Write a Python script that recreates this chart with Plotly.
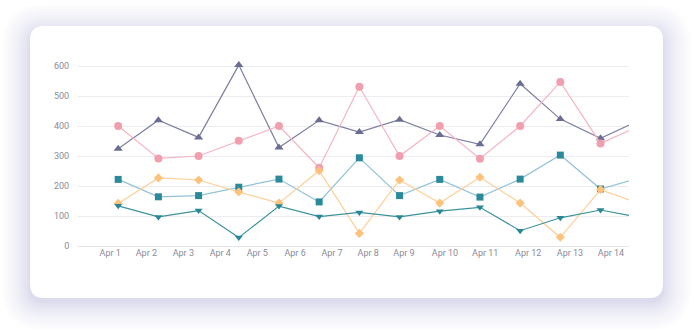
import pandas as pd
import plotly.graph_objects as go

# ---------------- data ----------------
dates = pd.date_range("2024-04-01", periods=14, freq="D")
series_a = [324, 419, 362, 603, 328, 419, 380, 421, 370, 339, 541, 423, 359, 421]   # triangle-up
series_b = [400, 292, 300, 351, 400, 261, 531, 300, 400, 291, 400, 547, 342, 402]   # circle
series_c = [222, 164, 168, 196, 223, 147, 294, 168, 222, 163, 223, 303, 190, 228]   # square
series_d = [142, 227, 220, 180, 143, 251, 42, 220, 143, 229, 143, 29, 188, 140]     # diamond
series_e = [134, 97, 118, 28, 133, 98, 112, 97, 116, 129, 51, 94, 120, 95]          # triangle-down
tick_labels = ["Apr 1", "Apr 2", "Apr 3", "Apr 4", "Apr 5", "Apr 6", "Apr 7",
               "Apr 8", "Apr 9", "Apr 10", "Apr 11", "Apr 12", "Apr 13", "Apr 14"]
y_ticks = [0, 100, 200, 300, 400, 500, 600]

# label anchor offsets (days from Apr 1) as placed by the original axis
tick_day_offsets = [-0.20, 0.70, 1.62, 2.54, 3.46, 4.40, 5.32, 6.22, 7.11, 8.13, 9.13, 10.20, 11.24, 12.26]
tick_vals = [pd.Timestamp("2024-04-01") + pd.Timedelta(days=d) for d in tick_day_offsets]

# ---------------- layout geometry ----------------
W, H = 694, 333
ML, MR, MT, MB = 78, 65, 54, 87
PW, PH = W - ML - MR, H - MT - MB


def fx(px):
    return (px - ML) / PW


def fy(py):
    return (H - MB - py) / PH


def rrect(x0, y0, x1, y1, r):
    pts = [
        f"M {fx(x0 + r)},{fy(y0)}",
        f"L {fx(x1 - r)},{fy(y0)}",
        f"Q {fx(x1)},{fy(y0)} {fx(x1)},{fy(y0 + r)}",
        f"L {fx(x1)},{fy(y1 - r)}",
        f"Q {fx(x1)},{fy(y1)} {fx(x1 - r)},{fy(y1)}",
        f"L {fx(x0 + r)},{fy(y1)}",
        f"Q {fx(x0)},{fy(y1)} {fx(x0)},{fy(y1 - r)}",
        f"L {fx(x0)},{fy(y0 + r)}",
        f"Q {fx(x0)},{fy(y0)} {fx(x0 + r)},{fy(y0)}",
        "Z",
    ]
    return " ".join(pts)


shapes = []
# soft shadow (denser near the card, fading outward)
n = 18
for i in range(n, 0, -1):
    e = (i / n) ** 1.5 * 28
    shapes.append(dict(type="path", xref="paper", yref="paper", layer="below",
                       path=rrect(30 - e, 27 - e + 5, 663 + e, 298 + e + 4, 14 + e),
                       fillcolor="rgba(120,120,165,0.014)", line=dict(width=0)))
# card
shapes.append(dict(type="path", xref="paper", yref="paper", layer="below",
                   path=rrect(30, 26, 663, 298, 14),
                   fillcolor="white", line=dict(width=0)))

fig = go.Figure()


def add(y, name, symbol, mcolor, lcolor, size):
    fig.add_trace(go.Scatter(
        x=dates, y=y, name=name, mode="lines+markers",
        line=dict(color=lcolor, width=1.2),
        marker=dict(symbol=symbol, color=mcolor, size=size, line=dict(width=0)),
        cliponaxis=True,
    ))


add(series_a, "A", "triangle-up", "#6b6d92", "#7d7fa0", 8)
add(series_b, "B", "circle", "#f19fae", "#f6b5c1", 8)
add(series_c, "C", "square", "#2b8a9a", "#92c2d6", 7)
add(series_d, "D", "diamond", "#ffc27d", "#ffcf98", 7)
add(series_e, "E", "triangle-down", "#2a8896", "#3b929d", 7)

fig.update_layout(
    width=W, height=H,
    margin=dict(l=ML, r=MR, t=MT, b=MB, pad=0),
    paper_bgcolor="white",
    plot_bgcolor="rgba(0,0,0,0)",
    showlegend=False,
    shapes=shapes,
    font=dict(family="Roboto", size=9, color="#8b8b97"),
    xaxis=dict(
        type="date",
        range=[pd.Timestamp("2024-03-31"), pd.Timestamp("2024-04-13 17:00")],
        tickmode="array", tickvals=tick_vals, ticktext=tick_labels,
        showgrid=False, zeroline=False, showline=False,
        ticks="",
    ),
    yaxis=dict(
        range=[0, 640],
        tickmode="array", tickvals=y_ticks,
        showgrid=True, gridcolor="#ececf1", gridwidth=1,
        zeroline=True, zerolinecolor="#e4e4ea", zerolinewidth=1,
        showline=False,
        ticks="outside", ticklen=6, tickcolor="rgba(0,0,0,0)",
    ),
)

fig.write_html("out.html")
